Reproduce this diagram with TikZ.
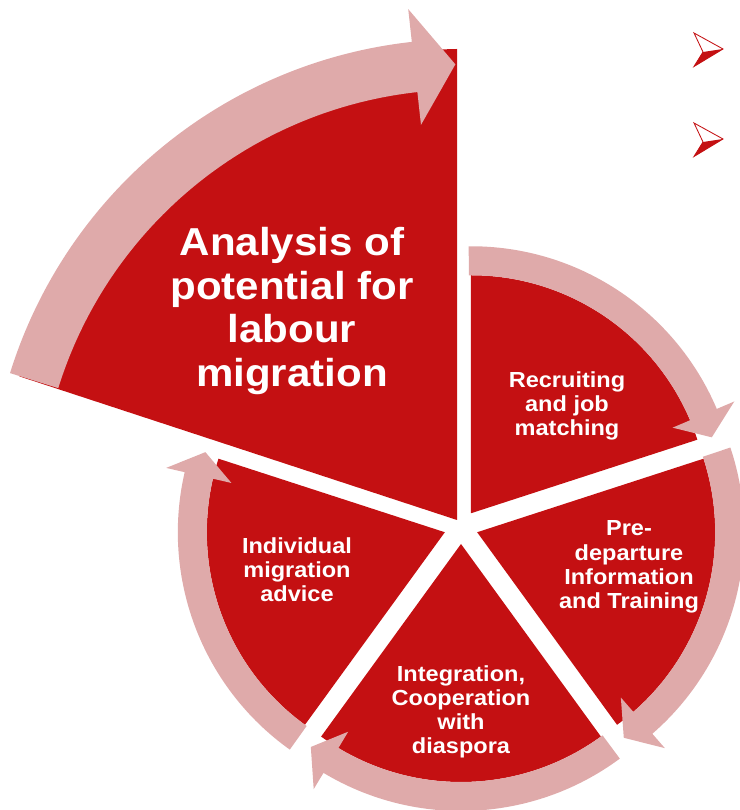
\documentclass[tikz,border=0pt]{standalone}
\usepackage{fontspec}
\setmainfont{Liberation Sans}[FakeStretch=1.08]
\usetikzlibrary{calc}
\definecolor{segred}{HTML}{C41012}
\definecolor{ringpink}{HTML}{DFAAAA}
\tikzset{
  wedge/.style={fill=segred, draw=none},
  ring/.style={fill=ringpink, draw=none},
  biglabel/.style={text=white, align=center, inner sep=0pt,
                   font=\bfseries\fontsize{27.7}{31.2}\selectfont},
  seglabel/.style={text=white, align=center, inner sep=0pt,
                   font=\bfseries\fontsize{15.5}{17.2}\selectfont},
  bullet/.style={draw=segred, line width=0.6pt, fill=white, line join=miter},
}
% curved block arrow: #1 centre, #2 tail, #3 head base, #4 tip angle,
% #5 inner radius, #6 outer radius, #7 head overhang
\newcommand{\ringarrow}[7]{%
  \fill[ring, shift={(#1)}] (#2:#6) arc[start angle=#2, end angle=#3, radius=#6]
    -- (#3:{#6+#7}) -- (#4:{(#5+#6)/2}) -- (#3:{#5-#7}) -- (#3:#5)
    arc[start angle=#3, end angle=#2, radius=#5] -- cycle;}

\begin{document}
\begin{tikzpicture}[x=0.025cm, y=0.025cm]
  \useasboundingbox (0,0) rectangle (739,810);
  % centres of the segments
  \coordinate (hub) at (461,283);
  \coordinate (cBig) at (464,295.5);
  \coordinate (cRec) at ($(hub)+(54:17)$);
  \coordinate (cPre) at ($(hub)+(-18:17)$);
  \coordinate (cInt) at ($(hub)+(-90:17)$);
  \coordinate (cInd) at ($(hub)+(198:17)$);

  % pie segments
  \fill[wedge] (457,290) -- (457,761) arc[start angle=90.9, end angle=162.7, radius=466] -- cycle;
  \foreach \nm/\lo/\hi in {Rec/18/90, Pre/-54/18, Int/-126/-54, Ind/162/234} {
    \fill[wedge] (c\nm) -- ++(\lo:238) arc[start angle=\lo, end angle=\hi, radius=238] -- cycle;
  }

  % cycle arrows
  \ringarrow{cRec}{90.5}{23}{17.5}{238}{267}{19}
  \ringarrow{cPre}{18.5}{-49}{-54.5}{238}{267}{19}
  \ringarrow{cInt}{-53.5}{-121}{-126.5}{238}{267}{19}
  \ringarrow{cInd}{234.5}{167}{161.5}{238}{267}{19}
  \ringarrow{cBig}{162.7}{96.3}{91.1}{425}{475.5}{33}

  % texts
  \node[biglabel] (anal) at (292,499) {Analysis of\\potential for\\labour\\migration};
  \node[seglabel] (recr) at (567,404) {Recruiting\\and job\\matching};
  \node[seglabel] (pred) at (629,243) {Pre-\\departure\\Information\\and Training};
  \node[seglabel] (intg) at (461,98) {Integration,\\Cooperation\\with\\diaspora};
  \node[seglabel] (indv) at (297,240) {Individual\\migration\\advice};

  % bullets of the next text box
  \foreach \by in {761,671} {
    \draw[bullet] (694,\by+16) -- (723,\by) -- (694,\by-17.5) -- (703,\by-3) -- cycle;
    \fill[segred] (703,\by-3) -- (723,\by) -- (694,\by-17.5) -- cycle;
  }
\end{tikzpicture}
\end{document}
